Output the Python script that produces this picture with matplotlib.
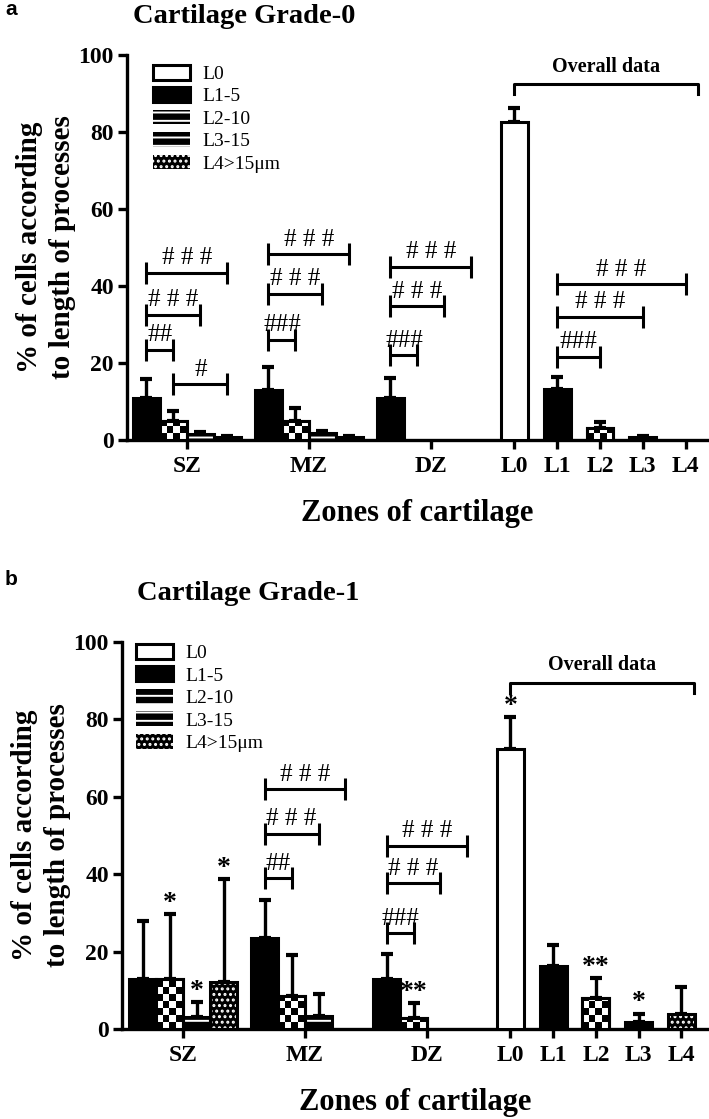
import numpy as np
import matplotlib
matplotlib.use('Agg')
import matplotlib.pyplot as plt
from matplotlib.patches import Patch

plt.rcParams['font.family'] = 'Liberation Serif'
plt.rcParams['hatch.linewidth'] = 1.4

zones = ['SZ', 'MZ', 'DZ']
overall_ticks = ['L0', 'L1', 'L2', 'L3', 'L4']
series = ['L0', 'L1-5', 'L2-10', 'L3-15', 'L4>15\u03bcm']

# grade 0: rows are L1..L4, columns SZ, MZ, DZ
a_zone_mean = [[11, 13, 11], [5, 5, 0], [1.5, 1.8, 0], [0.7, 0.8, 0]]
a_zone_err = [[4.8, 6, 5], [2.5, 3.2, 0], [0.5, 0.5, 0], [0.3, 0.3, 0]]
a_all_mean = [82.5, 13.3, 3.2, 0.7, 0]
a_all_err = [3.8, 3, 1.6, 0.4, 0]
# (zone, series i, series j, height, label); zone 3 = overall
a_brackets = [(0, 1, 4, 43.5, '# # #'), (0, 1, 3, 32.5, '# # #'),
              (0, 1, 2, 23.5, '##'), (0, 2, 4, 14.5, '#'),
              (1, 1, 4, 48.3, '# # #'), (1, 1, 3, 38, '# # #'), (1, 1, 2, 26, '###'),
              (2, 1, 4, 45, '# # #'), (2, 1, 3, 34.7, '# # #'), (2, 1, 2, 22, '###'),
              (3, 1, 4, 40.5, '# # #'), (3, 1, 3, 32, '# # #'), (3, 1, 2, 21.6, '###')]
a_stars = []

# grade 1
b_zone_mean = [[13, 23.5, 13], [13, 8.6, 2.8], [3, 3.3, 0], [12.2, 0, 0]]
b_zone_err = [[15, 9.8, 6.5], [16.8, 10.6, 3.8], [4, 5.8, 0], [26.6, 0, 0]]
b_all_mean = [72.4, 16.3, 8, 1.8, 3.9]
b_all_err = [8.2, 5.4, 5.2, 2.2, 7]
b_brackets = [(1, 1, 4, 62, '# # #'), (1, 1, 3, 50.5, '# # #'), (1, 1, 2, 39, '##'),
              (2, 1, 4, 47.4, '# # #'), (2, 1, 3, 37.6, '# # #'), (2, 1, 2, 24.7, '###')]
b_stars = [(0, 2, '*'), (0, 3, '*'), (0, 4, '*'), (2, 2, '**'),
           (3, 0, '*'), (3, 2, '**'), (3, 3, '*')]

zone_x = [0, 2.85, 5.7]
all_x = [7.65, 8.65, 9.65, 10.65, 11.65]
w = 0.63


def bar_x(z, k):
    if z == 3:
        return all_x[k]
    return zone_x[z] + (k - 2.5) * w


def draw_bar(ax, x, h, err, k):
    if h <= 0:
        return
    if k == 0:
        ax.bar(x, h, w, facecolor='white', edgecolor='black', lw=2.2, zorder=3)
    elif k == 1:
        ax.bar(x, h, w, facecolor='black', edgecolor='black', lw=2.2, zorder=3)
    elif k == 2:
        b = ax.bar(x, h, w, facecolor='black', edgecolor='black', lw=2.2, zorder=3)[0]
        sq = 1.8
        ny = max(int(np.ceil(h / sq)), 1)
        cells = np.add.outer(np.arange(ny), np.arange(4)) % 2
        im = ax.imshow(cells, cmap='gray', extent=(x - w / 2, x + w / 2, 0, ny * sq),
                       origin='lower', aspect='auto', interpolation='nearest', zorder=3)
        im.set_clip_path(b)
        ax.bar(x, h, w, fill=False, edgecolor='black', lw=2.2, zorder=4)
    else:
        hatch = '--' if k == 3 else '...'
        ax.bar(x, h, w, facecolor='black', edgecolor='white', lw=0, hatch=hatch, zorder=3)
        ax.bar(x, h, w, fill=False, edgecolor='black', lw=2.2, zorder=4)
    if err > 0:
        ax.errorbar(x, h, yerr=[[0], [err]], fmt='none', ecolor='black',
                    elinewidth=2.4, capsize=4, capthick=3, zorder=2)


def panel(rect, zmean, zerr, amean, aerr, brackets, stars, xlim, ypx, over_y, legpos):
    ax = fig.add_axes(rect)
    for k in range(1, 5):
        for z in range(3):
            draw_bar(ax, bar_x(z, k), zmean[k - 1][z], zerr[k - 1][z], k)
    for k in range(5):
        draw_bar(ax, all_x[k], amean[k], aerr[k], k)

    tk = 11 / ypx
    for z, i, j, y, lab in brackets:
        x1, x2 = bar_x(z, i), bar_x(z, j)
        ax.plot([x1, x2], [y, y], color='black', lw=2.2, solid_capstyle='butt', zorder=5)
        for xe in (x1, x2):
            ax.plot([xe, xe], [y - tk, y + tk], color='black', lw=2.2,
                    solid_capstyle='butt', zorder=5)
        ax.text((x1 + x2) / 2, y + 0.9, lab, ha='center', va='bottom', fontsize=18, zorder=6)

    for z, k, lab in stars:
        if z == 3:
            top = amean[k] + aerr[k]
        else:
            top = zmean[k - 1][z] + zerr[k - 1][z]
        ax.text(bar_x(z, k), top - 0.5, lab, ha='center', va='bottom',
                fontsize=20, fontweight='bold', zorder=6)

    x1, x2 = all_x[0], all_x[4] + 0.3
    ax.plot([x1, x1, x2, x2], [over_y - 2.5, over_y, over_y, over_y - 2.5],
            color='black', lw=2.2, clip_on=False, zorder=5)
    ax.text((x1 + x2) / 2, over_y + 2, 'Overall data', ha='center', va='bottom',
            fontsize=14.5, fontweight='bold')

    ax.set_xlim(*xlim)
    ax.set_ylim(0, 100)
    ax.set_yticks(range(0, 101, 20))
    ax.set_xticks(zone_x + all_x)
    ax.set_xticklabels(zones + overall_ticks)
    for s in ('top', 'right'):
        ax.spines[s].set_visible(False)
    for s in ('left', 'bottom'):
        ax.spines[s].set_linewidth(2.4)
    ax.tick_params(direction='out', length=6.5, width=2.4, labelsize=17)
    ax.tick_params(axis='y', pad=3)
    ax.tick_params(axis='x', pad=5)
    for t in ax.get_xticklabels() + ax.get_yticklabels():
        t.set_fontweight('bold')
    ax.set_xlabel('Zones of cartilage', fontsize=22, fontweight='bold', labelpad=16)
    ax.set_ylabel('% of cells according\nto length of processes', fontsize=21,
                  fontweight='bold', labelpad=2, linespacing=1.25)

    handles = [Patch(facecolor='white', edgecolor='black', lw=2.2),
               Patch(facecolor='black', edgecolor='black', lw=2.2),
               Patch(facecolor='black', edgecolor='white', lw=0, hatch='--'),
               Patch(facecolor='black', edgecolor='white', lw=0, hatch='--'),
               Patch(facecolor='black', edgecolor='white', lw=0, hatch='...')]
    ax.legend(handles, series, loc='upper left', bbox_to_anchor=legpos, frameon=False,
              fontsize=14, handlelength=1.9, handleheight=0.8, handletextpad=0.65,
              labelspacing=0.22, borderpad=0, borderaxespad=0)
    return ax


fig = plt.figure(figsize=(7.09, 11.19), dpi=100)

panel([127 / 709, 1 - 440 / 1119, 580 / 709, 385 / 1119],
      a_zone_mean, a_zone_err, a_all_mean, a_all_err, a_brackets, a_stars,
      (-1.40, 12.15), 3.85, 92.4, (0.045, 0.975))
panel([122 / 709, 1 - 1029 / 1119, 586 / 709, 387 / 1119],
      b_zone_mean, b_zone_err, b_all_mean, b_all_err, b_brackets, b_stars,
      (-1.43, 12.27), 3.87, 89.4, (0.024, 0.995))

fig.text(5 / 709, 1 - 15 / 1119, 'a', family='Liberation Sans', fontweight='bold',
         fontsize=15, va='baseline')
fig.text(5 / 709, 1 - 585 / 1119, 'b', family='Liberation Sans', fontweight='bold',
         fontsize=15, va='baseline')
fig.text(133 / 709, 1 - 23 / 1119, 'Cartilage Grade-0', fontweight='bold',
         fontsize=20.5, va='baseline')
fig.text(137 / 709, 1 - 600 / 1119, 'Cartilage Grade-1', fontweight='bold',
         fontsize=20.5, va='baseline')

fig.savefig('out.png', dpi=100)
